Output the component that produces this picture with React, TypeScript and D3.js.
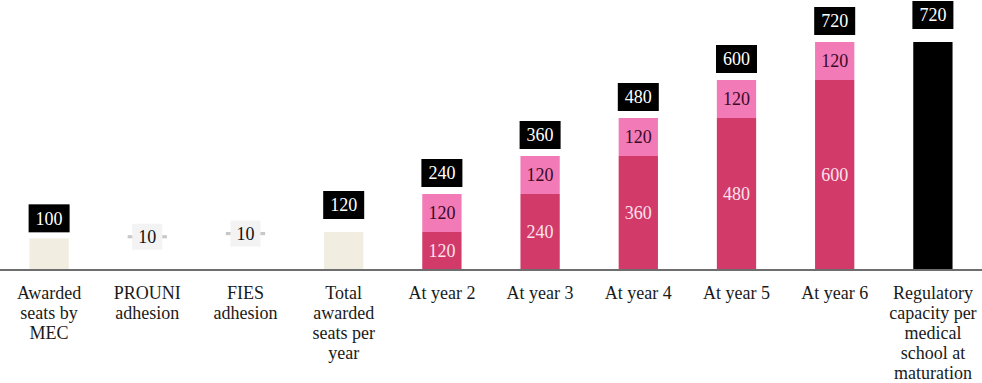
import React from "react";
import * as d3 from "d3";

const categories = [
  "Awarded seats by MEC",
  "PROUNI adhesion",
  "FIES adhesion",
  "Total awarded seats per year",
  "At year 2",
  "At year 3",
  "At year 4",
  "At year 5",
  "At year 6",
  "Regulatory capacity per medical school at maturation",
];
const categoryLines = [
  ["Awarded", "seats by", "MEC"],
  ["PROUNI", "adhesion"],
  ["FIES", "adhesion"],
  ["Total", "awarded", "seats per", "year"],
  ["At year 2"],
  ["At year 3"],
  ["At year 4"],
  ["At year 5"],
  ["At year 6"],
  ["Regulatory", "capacity per", "medical", "school at", "maturation"],
];
const lowerValues = [100, 10, 10, 120, 120, 240, 360, 480, 600, 720];
const upperValues = [0, 0, 0, 0, 120, 120, 120, 120, 120, 0];
const barTypes = ["start", "adhesion", "adhesion", "total", "stack", "stack", "stack", "stack", "stack", "capacity"];

const W = 982;
const H = 383;
const FONT = "Liberation Serif, Tinos, Times New Roman, DejaVu Serif, serif";

export default function App() {
  const x = d3.scaleBand<string>().domain(categories).range([0, W]).paddingInner(0.6).paddingOuter(0.3);
  const y = d3.scaleLinear().domain([0, 720]).range([270, 42]);
  const bw = x.bandwidth();

  let running = 0;
  const bases = lowerValues.map((v, i) => {
    const t = barTypes[i];
    if (t === "adhesion") {
      const b = running;
      running += v;
      return b;
    }
    if (t === "start") running = v;
    return 0;
  });

  const colorLower = (t: string) =>
    t === "stack" ? "#D23A6A" : t === "capacity" ? "#000000" : t === "adhesion" ? "#C8C8C8" : "#F1EDE1";

  const txt = { fontFamily: FONT, fontSize: "18px" } as React.CSSProperties;

  return (
    <div style={{ position: "fixed", left: 0, top: 0 }}>
      <svg width={W} height={H} style={{ display: "block", background: "#fff" }}>
        {categories.map((c, i) => {
          const t = barTypes[i];
          const x0 = x(c)!;
          const cx = x0 + bw / 2;
          const b = bases[i];
          const lo = lowerValues[i];
          const up = upperValues[i];
          const total = b + lo + up;
          const yLoTop = y(b + lo);
          const yLoBot = y(b);
          const els: React.ReactNode[] = [];
          els.push(
            <rect key="lo" x={x0} y={yLoTop} width={bw} height={yLoBot - yLoTop} fill={colorLower(t)} />
          );
          if (up > 0) {
            els.push(
              <rect key="up" x={x0} y={y(b + lo + up)} width={bw} height={yLoTop - y(b + lo + up)} fill="#F27AB6" />
            );
            els.push(
              <text key="upt" x={cx} y={(y(b + lo + up) + yLoTop) / 2} dy="0.35em" textAnchor="middle"
                style={txt} fill="#3A0A28">{up}</text>
            );
          }
          if (t === "stack") {
            els.push(
              <text key="lot" x={cx} y={(yLoTop + yLoBot) / 2} dy="0.35em" textAnchor="middle"
                style={txt} fill="#FCE3EC">{lo}</text>
            );
          }
          if (t === "adhesion") {
            const cy = (yLoTop + yLoBot) / 2;
            els.push(<rect key="lb" x={cx - 15} y={cy - 13} width={30} height={26} fill="#F3F3F3" />);
            els.push(
              <text key="lbt" x={cx} y={cy} dy="0.35em" textAnchor="middle" style={txt} fill="#111">{lo}</text>
            );
          } else {
            const gap = t === "stack" ? 7 : t === "start" ? 6 : 13;
            const boxBottom = y(total) - gap;
            const bh = 28;
            const bwid = 41;
            els.push(<rect key="tb" x={cx - bwid / 2} y={boxBottom - bh} width={bwid} height={bh} fill="#000" />);
            els.push(
              <text key="tbt" x={cx} y={boxBottom - bh / 2} dy="0.35em" textAnchor="middle" style={txt}
                fill="#fff">{total}</text>
            );
          }
          return <g key={c}>{els}</g>;
        })}
        <line x1={0} x2={W} y1={270} y2={270} stroke="#6E6E6E" strokeWidth={2} />
        {categories.map((c, i) => {
          const cx = x(c)! + bw / 2;
          return (
            <text key={"lab" + c} textAnchor="middle" style={txt} fill="#1A1A1A">
              {categoryLines[i].map((ln, k) => (
                <tspan key={k} x={cx} y={299 + k * 20}>{ln}</tspan>
              ))}
            </text>
          );
        })}
      </svg>
    </div>
  );
}
